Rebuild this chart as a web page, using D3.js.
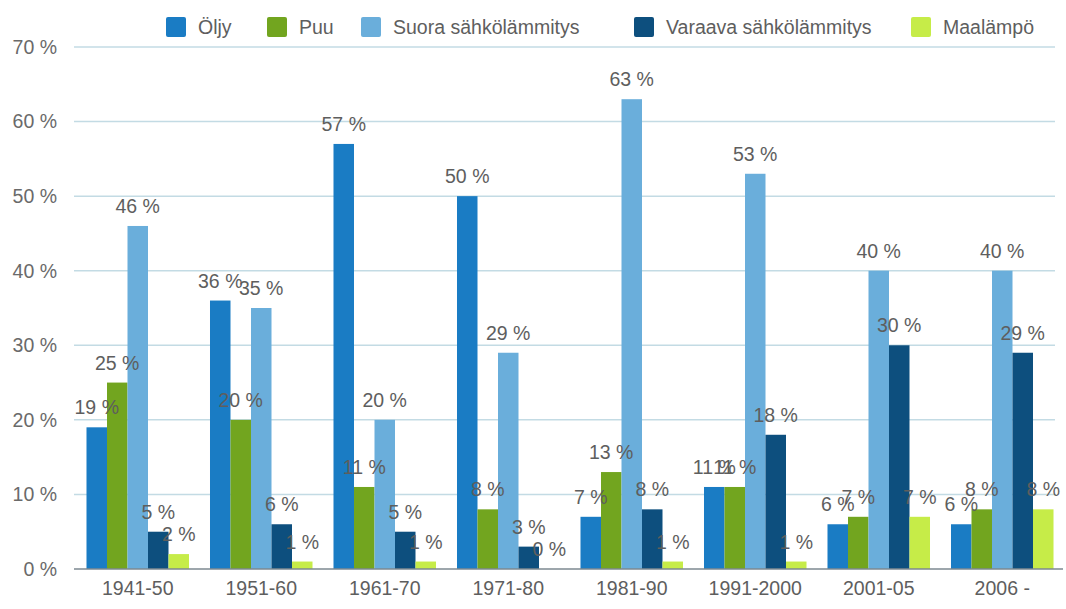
<!DOCTYPE html>
<html>
<head>
<meta charset="utf-8">
<script src="https://cdn.jsdelivr.net/npm/d3@7"></script>
<style>
  body { margin: 0; background: #fff; }
  text { font-family: "Liberation Sans", Arial, sans-serif; }
</style>
</head>
<body>
<svg id="chart"></svg>
<script>
// data
var categories = ['1941-50', '1951-60', '1961-70', '1971-80', '1981-90', '1991-2000', '2001-05', '2006 -'];
var seriesNames = ['Öljy', 'Puu', 'Suora sähkölämmitys', 'Varaava sähkölämmitys', 'Maalämpö'];
var oljy    = [19, 36, 57, 50, 7, 11, 6, 6];
var puu     = [25, 20, 11, 8, 13, 11, 7, 8];
var suora   = [46, 35, 20, 29, 63, 53, 40, 40];
var varaava = [5, 6, 5, 3, 8, 18, 30, 29];
var maalampo = [2, 1, 1, 0, 1, 1, 7, 8];
var yTicks = [0, 10, 20, 30, 40, 50, 60, 70];

var seriesValues = [oljy, puu, suora, varaava, maalampo];
var colors = ['#1a7cc4', '#72a51f', '#6aaedb', '#0d4f7e', '#c6ec48'];

var width = 1066, height = 609;
var fontSize = 19.5;
var svg = d3.select('#chart')
    .attr('width', width)
    .attr('height', height);

var x0 = d3.scaleBand()
    .domain(categories)
    .range([76, 1064])
    .paddingInner(0.17)
    .paddingOuter(0.085);

var x1 = d3.scaleBand()
    .domain(d3.range(seriesNames.length))
    .range([0, x0.bandwidth()]);

var y = d3.scaleLinear()
    .domain([0, 70])
    .range([569, 47]);

// gridlines
svg.append('g')
    .selectAll('line')
    .data(yTicks.filter(function(d) { return d > 0; }))
    .enter()
    .append('line')
    .attr('x1', 74)
    .attr('x2', 1055)
    .attr('y1', function(d) { return y(d); })
    .attr('y2', function(d) { return y(d); })
    .attr('stroke', '#c3dbe4')
    .attr('stroke-width', 1.5);

// y tick labels
svg.append('g')
    .selectAll('text')
    .data(yTicks)
    .enter()
    .append('text')
    .attr('x', 57)
    .attr('y', function(d) { return y(d); })
    .attr('dy', '0.35em')
    .attr('text-anchor', 'end')
    .attr('font-size', fontSize)
    .attr('fill', '#6a6a6a')
    .text(function(d) { return d + ' %'; });

// bars
var groups = svg.append('g')
    .selectAll('g')
    .data(categories)
    .enter()
    .append('g')
    .attr('transform', function(d) { return 'translate(' + x0(d) + ',0)'; });

groups.selectAll('rect')
    .data(function(d, i) {
        return seriesValues.map(function(s, j) { return { s: j, v: s[i] }; });
    })
    .enter()
    .append('rect')
    .attr('x', function(d) { return x1(d.s); })
    .attr('width', x1.bandwidth())
    .attr('y', function(d) { return y(d.v); })
    .attr('height', function(d) { return y(0) - y(d.v); })
    .attr('fill', function(d) { return colors[d.s]; });

// baseline
svg.append('line')
    .attr('x1', 74)
    .attr('x2', 1063)
    .attr('y1', y(0))
    .attr('y2', y(0))
    .attr('stroke', '#7d8890')
    .attr('stroke-width', 1.5);

// value labels
groups.selectAll('text')
    .data(function(d, i) {
        return seriesValues.map(function(s, j) { return { s: j, v: s[i] }; });
    })
    .enter()
    .append('text')
    .attr('x', function(d) { return x1(d.s) + x1.bandwidth() / 2; })
    .attr('y', function(d) { return y(d.v) - 13; })
    .attr('text-anchor', 'middle')
    .attr('font-size', fontSize)
    .attr('fill', '#5e5e5e')
    .text(function(d) { return d.v + ' %'; });

// x labels
svg.append('g')
    .selectAll('text')
    .data(categories)
    .enter()
    .append('text')
    .attr('x', function(d) { return x0(d) + x0.bandwidth() / 2; })
    .attr('y', 595)
    .attr('text-anchor', 'middle')
    .attr('font-size', fontSize)
    .attr('fill', '#5e5e5e')
    .text(function(d) { return d; });

// legend
var legendX = [166, 267, 361, 634, 911];
var legend = svg.append('g')
    .selectAll('g')
    .data(seriesNames)
    .enter()
    .append('g')
    .attr('transform', function(d, i) { return 'translate(' + legendX[i] + ',17)'; });

legend.append('rect')
    .attr('width', 20)
    .attr('height', 20)
    .attr('rx', 2)
    .attr('fill', function(d, i) { return colors[i]; });

legend.append('text')
    .attr('x', 32)
    .attr('y', 10)
    .attr('dy', '0.35em')
    .attr('font-size', fontSize)
    .attr('fill', '#5e5e5e')
    .text(function(d) { return d; });
</script>
</body>
</html>
